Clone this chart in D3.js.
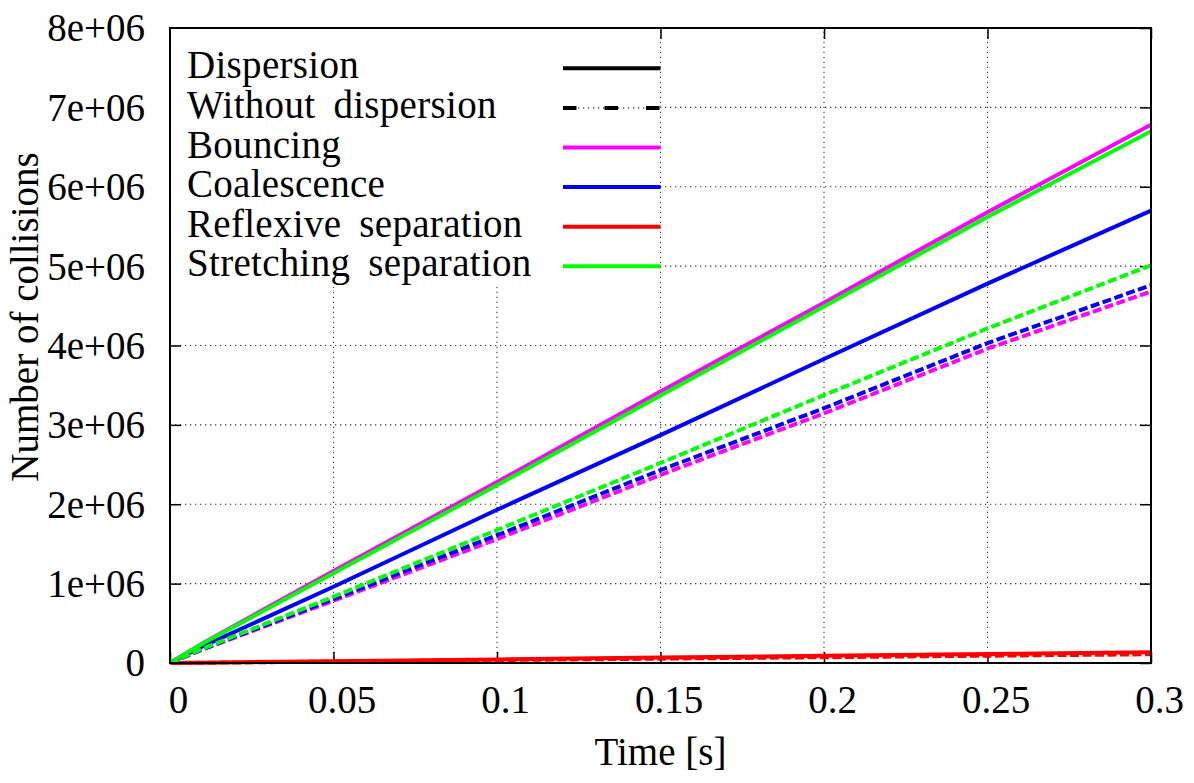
<!DOCTYPE html>
<html>
<head>
<meta charset="utf-8">
<script src="https://cdn.jsdelivr.net/npm/d3@7"></script>
<style>
  html, body { margin: 0; padding: 0; background: #fff; }
  svg { display: block; }
  svg text { fill: #000; }
</style>
</head>
<body>
<svg id="chart" width="1194" height="783"></svg>
<script>
// ---- data ----
const times = [0, 0.01, 0.05, 0.1, 0.15, 0.2, 0.25, 0.3];
const bouncingDisp   = [0, 0.25e6, 1.16e6, 2.28e6, 3.42e6, 4.54e6, 5.68e6, 6.78e6];
const coalescenceDisp= [0, 0.21e6, 0.96e6, 1.93e6, 2.87e6, 3.83e6, 4.78e6, 5.70e6];
const reflexiveDisp  = [0, 0.004e6, 0.022e6, 0.045e6, 0.068e6, 0.09e6, 0.112e6, 0.135e6];
const stretchingDisp = [0, 0.245e6, 1.13e6, 2.24e6, 3.37e6, 4.49e6, 5.62e6, 6.70e6];
const bouncingNo     = [0, 0.17e6, 0.785e6, 1.56e6, 2.37e6, 3.145e6, 3.96e6, 4.68e6];
const coalescenceNo  = [0, 0.175e6, 0.806e6, 1.61e6, 2.43e6, 3.21e6, 4.03e6, 4.76e6];
const reflexiveNo    = [0, 0.003e6, 0.018e6, 0.037e6, 0.055e6, 0.073e6, 0.092e6, 0.11e6];
const stretchingNo   = [0, 0.18e6, 0.835e6, 1.675e6, 2.52e6, 3.375e6, 4.215e6, 5.01e6];

const xTicks = [0, 0.05, 0.1, 0.15, 0.2, 0.25, 0.3];
const xTickLabels = ["0", "0.05", "0.1", "0.15", "0.2", "0.25", "0.3"];
const yTicks = [0, 1e6, 2e6, 3e6, 4e6, 5e6, 6e6, 7e6, 8e6];
const yTickLabels = ["0", "1e+06", "2e+06", "3e+06", "4e+06", "5e+06", "6e+06", "7e+06", "8e+06"];

const legendLabels = ["Dispersion", "Without dispersion", "Bouncing", "Coalescence", "Reflexive separation", "Stretching separation"];
const legendColors = ["#000000", "#000000", "#ff00ff", "#0000ff", "#ff0000", "#00ff00"];
const xTitle = "Time [s]";
const yTitle = "Number of collisions";

// ---- layout ----
const L = 170, R = 1151, T = 28, B = 663;
const FS = 39;
const FONT = '"Liberation Serif", "Times New Roman", Tinos, "DejaVu Serif", serif';
const svg = d3.select("#chart").attr("font-family", FONT);
const x = d3.scaleLinear().domain([0, 0.3]).range([L, R]);
const y = d3.scaleLinear().domain([0, 8e6]).range([B, T]);

// grid
const grid = svg.append("g").attr("stroke", "#333").attr("stroke-width", 1.1)
  .attr("stroke-dasharray", "1.3,3.7");
xTicks.slice(1, -1).forEach(t => {
  grid.append("line").attr("x1", x(t)).attr("x2", x(t)).attr("y1", B).attr("y2", T);
});
yTicks.slice(1, -1).forEach(t => {
  grid.append("line").attr("x1", L).attr("x2", R).attr("y1", y(t)).attr("y2", y(t));
});

// axes (ticks inward)
function styleAxis(g) {
  g.attr("font-family", FONT).attr("font-size", FS);
  g.select(".domain").remove();
  g.selectAll(".tick line").attr("stroke", "#000").attr("stroke-width", 1.5);
  g.selectAll("text").attr("font-family", FONT).attr("font-size", FS).attr("fill", "#000");
}
const leftAxis = svg.append("g").attr("transform", `translate(${L},0)`)
  .call(d3.axisLeft(y).tickValues(yTicks).tickSize(-11).tickPadding(25)
    .tickFormat((d, i) => yTickLabels[i]));
styleAxis(leftAxis);
leftAxis.selectAll("text").attr("dy", "0.33em");

const rightAxis = svg.append("g").attr("transform", `translate(${R},0)`)
  .call(d3.axisRight(y).tickValues(yTicks).tickSize(-11).tickFormat(""));
styleAxis(rightAxis);

const bottomAxis = svg.append("g").attr("transform", `translate(0,${B})`)
  .call(d3.axisBottom(x).tickValues(xTicks).tickSize(-11).tickPadding(22)
    .tickFormat((d, i) => xTickLabels[i]));
styleAxis(bottomAxis);
bottomAxis.selectAll("text").attr("dx", 8);

const topAxis = svg.append("g").attr("transform", `translate(0,${T})`)
  .call(d3.axisTop(x).tickValues(xTicks).tickSize(-11).tickFormat(""));
styleAxis(topAxis);

// data lines
const line = d3.line().x((d, i) => x(times[i])).y(d => y(d));
const plotG = svg.append("g");
const series = [
  {v: bouncingDisp, c: "#ff00ff", dash: null},
  {v: coalescenceDisp, c: "#0000ff", dash: null},
  {v: reflexiveDisp, c: "#ff0000", dash: null},
  {v: stretchingDisp, c: "#00ff00", dash: null},
  {v: bouncingNo, c: "#ff00ff", dash: "9,3.5"},
  {v: coalescenceNo, c: "#0000ff", dash: "9,3.5"},
  {v: reflexiveNo, c: "#ff0000", dash: "9,3.5"},
  {v: stretchingNo, c: "#00ff00", dash: "9,3.5"}
];
series.forEach(s => {
  plotG.append("path").datum(s.v).attr("d", line)
    .attr("fill", "none").attr("stroke", s.c).attr("stroke-width", 4)
    .attr("stroke-dasharray", s.dash);
});

// legend (opaque key)
const key = svg.append("g");
key.append("rect").attr("x", L + 1).attr("y", T + 1).attr("width", 488).attr("height", 258).attr("fill", "#fff");
const rowY0 = 68.3, rowH = 39.6, sx1 = 563, sx2 = 660.5;
legendLabels.forEach((lab, i) => {
  const ry = rowY0 + i * rowH;
  key.append("text").attr("x", 187).attr("y", ry + 10)
    .attr("font-family", FONT).attr("font-size", FS)
    .attr("word-spacing", 8).attr("letter-spacing", 0.3).text(lab);
  if (i === 1) {
    key.append("line").attr("x1", sx1).attr("x2", sx2).attr("y1", ry).attr("y2", ry)
      .attr("stroke", "#333").attr("stroke-width", 1.1).attr("stroke-dasharray", "1.3,3.7");
    key.append("line").attr("x1", sx1).attr("x2", sx2).attr("y1", ry).attr("y2", ry)
      .attr("stroke", legendColors[i]).attr("stroke-width", 4).attr("stroke-dasharray", "13.5,28");
  } else {
    key.append("line").attr("x1", sx1).attr("x2", sx2).attr("y1", ry).attr("y2", ry)
      .attr("stroke", legendColors[i]).attr("stroke-width", 4);
  }
});

// border
svg.append("rect").attr("x", L).attr("y", T).attr("width", R - L).attr("height", B - T)
  .attr("fill", "none").attr("stroke", "#000").attr("stroke-width", 2);

// axis titles
svg.append("text").attr("x", (L + R) / 2).attr("y", 765).attr("text-anchor", "middle")
  .attr("font-family", FONT).attr("font-size", FS).text(xTitle);
svg.append("text").attr("transform", `translate(38,317) rotate(-90)`).attr("text-anchor", "middle")
  .attr("font-family", FONT).attr("font-size", FS).text(yTitle);
</script>
</body>
</html>
